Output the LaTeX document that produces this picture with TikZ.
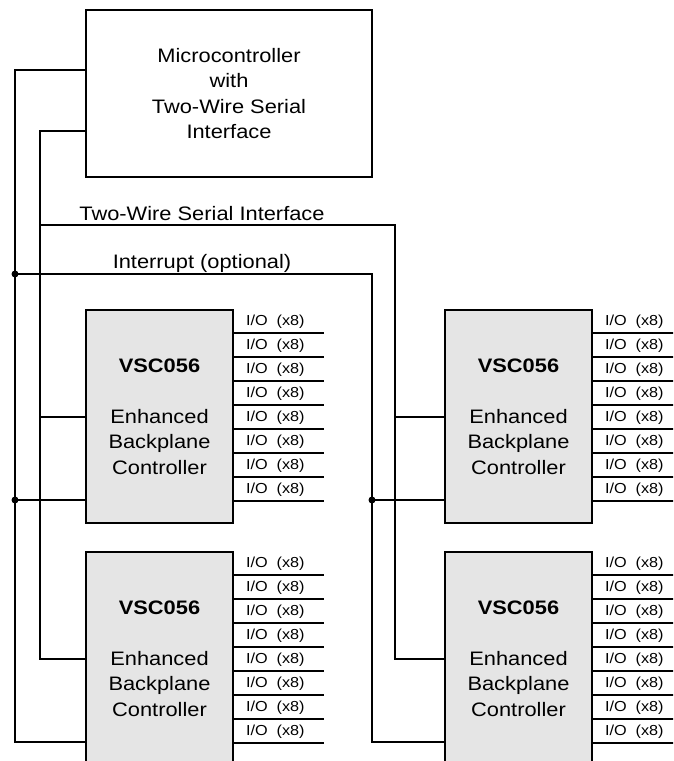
\documentclass[tikz,border=0pt]{standalone}
\usepackage{fontspec}
\setmainfont{Liberation Sans}[FakeStretch=1.12]
\usetikzlibrary{positioning}

\begin{document}
\begin{tikzpicture}[
    x=1pt, y=-1pt,
    wire/.style={line width=2pt},
    mcubox/.style={rectangle, draw, line width=2pt, minimum width=286pt, minimum height=167pt, align=center, inner sep=0pt, font=\fontsize{19.5}{25.5}\selectfont},
    chip/.style={rectangle, draw, line width=2pt, fill=black!10, minimum width=147pt, minimum height=213pt, align=center, inner sep=0pt, font=\fontsize{19.5}{25.5}\selectfont},
    iolbl/.style={anchor=south west, inner sep=3pt, xshift=8pt, font=\fontsize{14.5}{16}\selectfont},
    buslbl/.style={anchor=base, inner sep=0pt, font=\fontsize{19.5}{22}\selectfont},
    node distance=27pt and 210pt
]
\useasboundingbox (0,0) rectangle (673,761);
\clip (0,0) rectangle (673,761);

% Nodes
\node[mcubox] (mcu) at (229,93.5) {Microcontroller\\with\\Two-Wire Serial\\Interface};
\node[chip] (tlc) at (159.5,416.5) {\textbf{VSC056}\\[25.5pt]Enhanced\\Backplane\\Controller};
\node[chip, right=of tlc] (trc) {\textbf{VSC056}\\[25.5pt]Enhanced\\Backplane\\Controller};
\node[chip, below=of tlc] (blc) {\textbf{VSC056}\\[25.5pt]Enhanced\\Backplane\\Controller};
\node[chip, below=of trc] (brc) {\textbf{VSC056}\\[25.5pt]Enhanced\\Backplane\\Controller};

% Pins on the controller and the chips
\coordinate (mcu-int) at ([yshift=23.5pt]mcu.west);
\coordinate (mcu-twi) at ([yshift=-37.5pt]mcu.west);
\foreach \c in {tlc,trc,blc,brc} {
    \coordinate (\c-twi) at (\c.west);
    \coordinate (\c-int) at ([yshift=-83.5pt]\c.west);
}

% Bus corners
\coordinate (intL) at (15,274);
\coordinate (intR) at (372,274);
\coordinate (twiL) at (40,225);
\coordinate (twiR) at (395,225);

% I/O lines
\foreach \c in {tlc,trc,blc,brc} {
    \foreach \i in {0,...,7} {
        \coordinate (\c-pin\i) at ([yshift={-23.5pt-24pt*\i}]\c.north east);
        \draw[wire] (\c-pin\i) -- ++(90,0) node[pos=0, iolbl] {I/O~~(x8)};
    }
}

% Interrupt bus
\draw[wire] (mcu-int) -| (intL) |- (blc-int);
\draw[wire] (intL) -- (intR) |- (brc-int);
\draw[wire] (tlc-int) -- (tlc-int -| intL);
\draw[wire] (trc-int) -- (trc-int -| intR);
\fill (intL) circle (3.5pt);
\fill (tlc-int -| intL) circle (3.5pt);
\fill (trc-int -| intR) circle (3.5pt);

% Two-wire serial bus
\draw[wire] (mcu-twi) -| (twiL) |- (blc-twi);
\draw[wire] (twiL) -- (twiR) |- (brc-twi);
\draw[wire] (tlc-twi) -- (tlc-twi -| twiL);
\draw[wire] (trc-twi) -- (trc-twi -| twiR);

% Bus labels
\node[buslbl] (twilbl) at ([xshift=162pt, yshift=5pt]twiL) {Two-Wire Serial Interface};
\node[buslbl] (intlbl) at ([xshift=187pt, yshift=6pt]intL) {Interrupt (optional)};

\end{tikzpicture}
\end{document}
